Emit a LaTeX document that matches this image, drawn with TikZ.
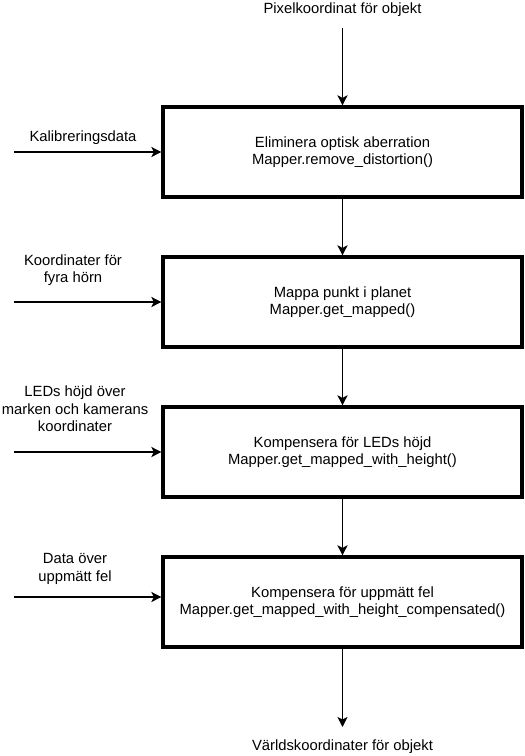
\documentclass[tikz,border=0pt]{standalone}
\usepackage{fontspec}
\setmainfont{Liberation Sans}
\usetikzlibrary{arrows.meta,calc}

\begin{document}
\begin{tikzpicture}[x=1pt,y=-1pt]
    \tikzstyle{every node}=[font=\fontsize{14.8}{17.5}\selectfont]
    \tikzstyle{stepbox}=[draw, line width=3.2pt, minimum width=359pt, minimum height=90pt, align=center, inner sep=0pt]
    \tikzstyle{flow}=[-{Stealth[length=10pt,width=10pt,inset=2.5pt]}, line width=1.8pt]
    \useasboundingbox (0,0) rectangle (525,756);

      % processing steps
      \node[stepbox] (B1) at (342.5,152) {Eliminera optisk aberration\\Mapper.remove\_distortion()};
      \node[stepbox] (B2) at (342.5,302) {Mappa punkt i planet\\Mapper.get\_mapped()};
      \node[stepbox] (B3) at (342.5,452) {Kompensera för LEDs höjd\\Mapper.get\_mapped\_with\_height()};
      \node[stepbox] (B4) at (342.5,602) {Kompensera för uppmätt fel\\Mapper.get\_mapped\_with\_height\_compensated()};

      % object in and out
      \node (Pin) at (342.5,10) {Pixelkoordinat för objekt};
      \node (Wout) at (342.5,747) {Världskoordinater för objekt};
      \coordinate (Top) at (342.5,28);
      \coordinate (Bot) at (342.5,727);

      \draw[flow] (Top) -- (B1.north);
      \draw[flow] (B1.south) -- (B2.north);
      \draw[flow] (B2.south) -- (B3.north);
      \draw[flow] (B3.south) -- (B4.north);
      \draw[flow] (B4.south) -- (Bot);

      % side inputs
      \coordinate (I1) at (14,152);
      \coordinate (I2) at (14,302);
      \coordinate (I3) at (14,452);
      \coordinate (I4) at (14,597);

      \node[align=center] (L1) at (83,138) {Kalibreringsdata};
      \node[align=center] (L2) at (73,270) {Koordinater för\\fyra hörn};
      \node[align=center] (L3) at (75,409) {LEDs höjd över\\marken och kamerans\\koordinater};
      \node[align=center] (L4) at (75,569) {Data över\\uppmätt fel};

      \draw[flow] (I1) -- (B1.west);
      \draw[flow] (I2) -- (B2.west);
      \draw[flow] (I3) -- (B3.west);
      \draw[flow] (I4) -- (B4.west |- I4);

    \end{tikzpicture}
\end{document}
